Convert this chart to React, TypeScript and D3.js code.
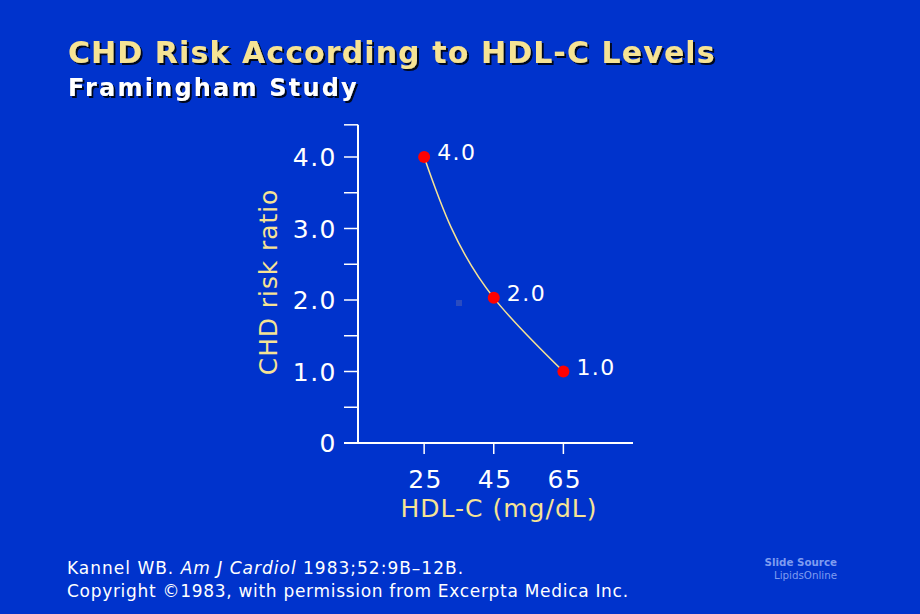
import React from "react";
import * as d3 from "d3";

const hdlValues = [25, 45, 65];
const riskValues = [4.0, 2.03, 1.0];
const pointLabels = ["4.0", "2.0", "1.0"];
const yTickValues = [0, 1, 2, 3, 4];
const yTickLabels = ["0", "1.0", "2.0", "3.0", "4.0"];
const yMinorTicks = [0.5, 1.5, 2.5, 3.5, 4.45];
const xTickValues = [25, 45, 65];

const W = 920;
const H = 614;
const BG = "#0033cc";
const YELLOW = "#f6e394";
const FONT = "Verdana, 'DejaVu Sans', sans-serif";

export default function App() {
  const x = d3.scaleLinear().domain([6, 85]).range([358, 633]);
  const y = d3.scaleLinear().domain([0, 4]).range([443, 157]);
  const pts: [number, number][] = hdlValues.map((v, i) => [x(v), y(riskValues[i])]);
  const line = d3.line<[number, number]>().curve(d3.curveMonotoneY)(pts) || "";

  return (
    <svg width={W} height={H} style={{ position: "absolute", left: 0, top: 0 }} fontFamily={FONT}>
      <defs>
        <filter id="sh" x="-5%" y="-20%" width="110%" height="150%">
          <feDropShadow dx="2" dy="2" stdDeviation="0.6" floodColor="#000" floodOpacity="0.85" />
        </filter>
      </defs>
      <rect width={W} height={H} fill={BG} />
      <text x={68} y={63} fontSize={30} letterSpacing={1.1} fontWeight="bold" fill={YELLOW} filter="url(#sh)">
        CHD Risk According to HDL-C Levels
      </text>
      <text x={68} y={96} fontSize={24} letterSpacing={2.2} fontWeight="bold" fill="#fff" filter="url(#sh)">
        Framingham Study
      </text>

      {/* axes */}
      <line x1={358} x2={358} y1={y(4.45)} y2={y(0)} stroke="#fff" strokeWidth={2} />
      <line x1={344} x2={633} y1={y(0)} y2={y(0)} stroke="#fff" strokeWidth={2} />
      {yTickValues.concat(yMinorTicks).map((t) => (
        <line key={"yt" + t} x1={344} x2={358} y1={y(t)} y2={y(t)} stroke="#fff" strokeWidth={1.5} />
      ))}
      {yTickValues.map((t, i) => (
        <text key={"yl" + t} x={337} y={y(t) + 9} fontSize={25} letterSpacing={1.5} fill="#fff" textAnchor="end">
          {yTickLabels[i]}
        </text>
      ))}
      {xTickValues.map((t) => (
        <line key={"xt" + t} x1={x(t)} x2={x(t)} y1={y(0)} y2={y(0) + 11} stroke="#fff" strokeWidth={1.5} />
      ))}
      {xTickValues.map((t) => (
        <text key={"xl" + t} x={x(t) + 1.5} y={488} fontSize={25} letterSpacing={1.5} fill="#fff" textAnchor="middle">
          {t}
        </text>
      ))}
      <text x={499} y={517} fontSize={25} letterSpacing={1} fill={YELLOW} textAnchor="middle">
        HDL-C (mg/dL)
      </text>
      <text transform="translate(277,282) rotate(-90)" fontSize={25} letterSpacing={0.9} fill={YELLOW} textAnchor="middle">
        CHD risk ratio
      </text>

      <rect x={456} y={300} width={6} height={6} fill="#2a4cc0" />

      <path d={line} fill="none" stroke={YELLOW} strokeWidth={1.5} />
      {pts.map((p, i) => (
        <g key={"p" + i}>
          <circle cx={p[0]} cy={p[1]} r={6} fill="#ff0000" />
          <text x={p[0] + 13} y={p[1] + 3} fontSize={22} letterSpacing={1.5} fill="#fff">
            {pointLabels[i]}
          </text>
        </g>
      ))}

      <text x={67} y={574} fontSize={17} letterSpacing={1.0} fill="#fff">
        Kannel WB. <tspan fontStyle="italic">Am J Cardiol</tspan> 1983;52:9B–12B.
      </text>
      <text x={67} y={597} fontSize={17} letterSpacing={0.7} fill="#fff">
        Copyright ©1983, with permission from Excerpta Medica Inc.
      </text>
      <text x={837} y={566} fontSize={10.3} fontWeight="bold" fill="#7f9cf0" textAnchor="end">
        Slide Source
      </text>
      <text x={837} y={579} fontSize={10.3} fill="#7f9cf0" textAnchor="end">
        LipidsOnline
      </text>
    </svg>
  );
}
